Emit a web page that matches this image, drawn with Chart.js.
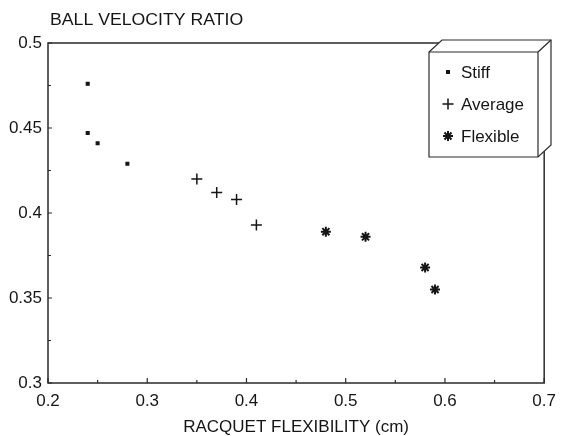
<!DOCTYPE html>
<html><head><meta charset="utf-8">
<script src="https://cdn.jsdelivr.net/npm/chart.js@4/dist/chart.umd.min.js"></script>
<style>html,body{margin:0;padding:0;background:#fff}#wrap{width:564px;height:436px}</style>
</head><body><div id="wrap"><canvas id="c" width="564" height="436"></canvas></div>
<script>
const seriesNames = ['Stiff', 'Average', 'Flexible'];
const stiffX = [0.24, 0.24, 0.25, 0.28];
const stiffY = [0.476, 0.447, 0.441, 0.429];
const averageX = [0.35, 0.37, 0.39, 0.41];
const averageY = [0.420, 0.412, 0.408, 0.393];
const flexibleX = [0.48, 0.52, 0.58, 0.59];
const flexibleY = [0.389, 0.386, 0.368, 0.355];
const xTickValues = [0.2, 0.3, 0.4, 0.5, 0.6, 0.7];
const xTickLabels = ['0.2', '0.3', '0.4', '0.5', '0.6', '0.7'];
const yTickValues = [0.3, 0.35, 0.4, 0.45, 0.5];
const yTickLabels = ['0.3', '0.35', '0.4', '0.45', '0.5'];
const yTitle = 'BALL VELOCITY RATIO';
const xTitle = 'RACQUET FLEXIBILITY (cm)';

const FONT = '"Liberation Sans", Arial, sans-serif';
const INK = '#151515';

function pts(xs, ys) { return xs.map((x, i) => ({ x: x, y: ys[i] })); }
function lookup(vals, labels, v) {
  for (let i = 0; i < vals.length; i++) if (Math.abs(vals[i] - v) < 1e-6) return labels[i];
  return '';
}

const styles = [
  { pointStyle: 'rect', radius: 2, borderWidth: 1.2 },
  { pointStyle: 'cross', radius: 5.5, borderWidth: 1.5 },
  { pointStyle: 'star', radius: 5, borderWidth: 2 }
];

const deco = {
  id: 'deco',
  beforeDatasetsDraw(chart) {
    const { ctx, chartArea: a, scales: { x, y } } = chart;
    ctx.save();
    ctx.strokeStyle = '#2a2a2a';
    ctx.lineWidth = 1.5;
    ctx.strokeRect(a.left, a.top, a.right - a.left, a.bottom - a.top);
    ctx.lineWidth = 1.2;
    ctx.beginPath();
    for (let i = 0; i <= 10; i++) {
      const px = x.getPixelForValue(0.2 + i * 0.05);
      const len = i % 2 === 0 ? 5 : 3;
      ctx.moveTo(px, a.bottom); ctx.lineTo(px, a.bottom - len);
    }
    for (let i = 0; i <= 8; i++) {
      const py = y.getPixelForValue(0.3 + i * 0.025);
      const len = i % 2 === 0 ? 4 : 3;
      ctx.moveTo(a.left, py); ctx.lineTo(a.left + len, py);
    }
    ctx.stroke();
    ctx.fillStyle = INK;
    ctx.font = '17px ' + FONT;
    ctx.textBaseline = 'middle';
    ctx.textAlign = 'left';
    ctx.save();
    ctx.translate(50, 20);
    ctx.scale(1.04, 1);
    ctx.fillText(yTitle, 0, 0);
    ctx.restore();
    ctx.restore();
  },
  afterDraw(chart) {
    const ctx = chart.ctx;
    ctx.save();
    const L = 429, T = 52, R = 538, B = 157, dx = 13, dy = 12;
    ctx.fillStyle = '#fff';
    ctx.strokeStyle = '#2a2a2a';
    ctx.lineWidth = 1.2;
    ctx.beginPath();
    ctx.moveTo(L, T); ctx.lineTo(L + dx, T - dy); ctx.lineTo(R + dx, T - dy);
    ctx.lineTo(R + dx, B - dy); ctx.lineTo(R, B); ctx.lineTo(L, B); ctx.closePath();
    ctx.fill(); ctx.stroke();
    ctx.beginPath();
    ctx.moveTo(L, T); ctx.lineTo(R, T); ctx.lineTo(R, B);
    ctx.moveTo(R, T); ctx.lineTo(R + dx, T - dy);
    ctx.stroke();
    const rows = [72, 104, 136];
    ctx.font = '17px ' + FONT;
    ctx.textBaseline = 'middle';
    chart.data.datasets.forEach((ds, i) => {
      ctx.fillStyle = INK; ctx.strokeStyle = INK;
      ctx.lineWidth = ds.borderWidth;
      Chart.helpers.drawPoint(ctx, { pointStyle: ds.pointStyle, radius: ds.pointRadius, rotation: 0, borderWidth: ds.borderWidth }, 448, rows[i]);
      ctx.fillStyle = INK;
      ctx.fillText(ds.label, 461, rows[i] + 1);
    });
    ctx.restore();
  }
};

const datasets = [pts(stiffX, stiffY), pts(averageX, averageY), pts(flexibleX, flexibleY)].map((d, i) => ({
  label: seriesNames[i],
  data: d,
  pointStyle: styles[i].pointStyle,
  pointRadius: styles[i].radius,
  pointHoverRadius: styles[i].radius,
  borderWidth: styles[i].borderWidth,
  borderColor: INK,
  backgroundColor: INK,
  showLine: false
}));

new Chart(document.getElementById('c'), {
  type: 'scatter',
  data: { datasets: datasets },
  options: {
    responsive: false,
    animation: false,
    devicePixelRatio: 1,
    layout: { padding: { top: 43, right: 13, left: 0, bottom: 0 } },
    plugins: { legend: { display: false }, tooltip: { enabled: false }, title: { display: false } },
    scales: {
      x: {
        type: 'linear', min: 0.2, max: 0.7,
        afterFit: s => { s.height = 53; },
        grid: { display: false, drawTicks: false },
        border: { display: false },
        ticks: {
          stepSize: 0.1, padding: 8, color: INK, font: { family: FONT, size: 17 },
          callback: v => lookup(xTickValues, xTickLabels, v)
        },
        title: { display: true, text: xTitle, color: INK, font: { family: FONT, size: 17, lineHeight: 1 }, padding: { top: 0, bottom: 0 } }
      },
      y: {
        type: 'linear', min: 0.3, max: 0.5,
        afterFit: s => { s.width = 48; },
        grid: { display: false, drawTicks: false },
        border: { display: false },
        ticks: {
          stepSize: 0.05, padding: 6, color: INK, font: { family: FONT, size: 17 },
          callback: v => lookup(yTickValues, yTickLabels, v)
        }
      }
    }
  },
  plugins: [deco]
});
</script></body></html>
